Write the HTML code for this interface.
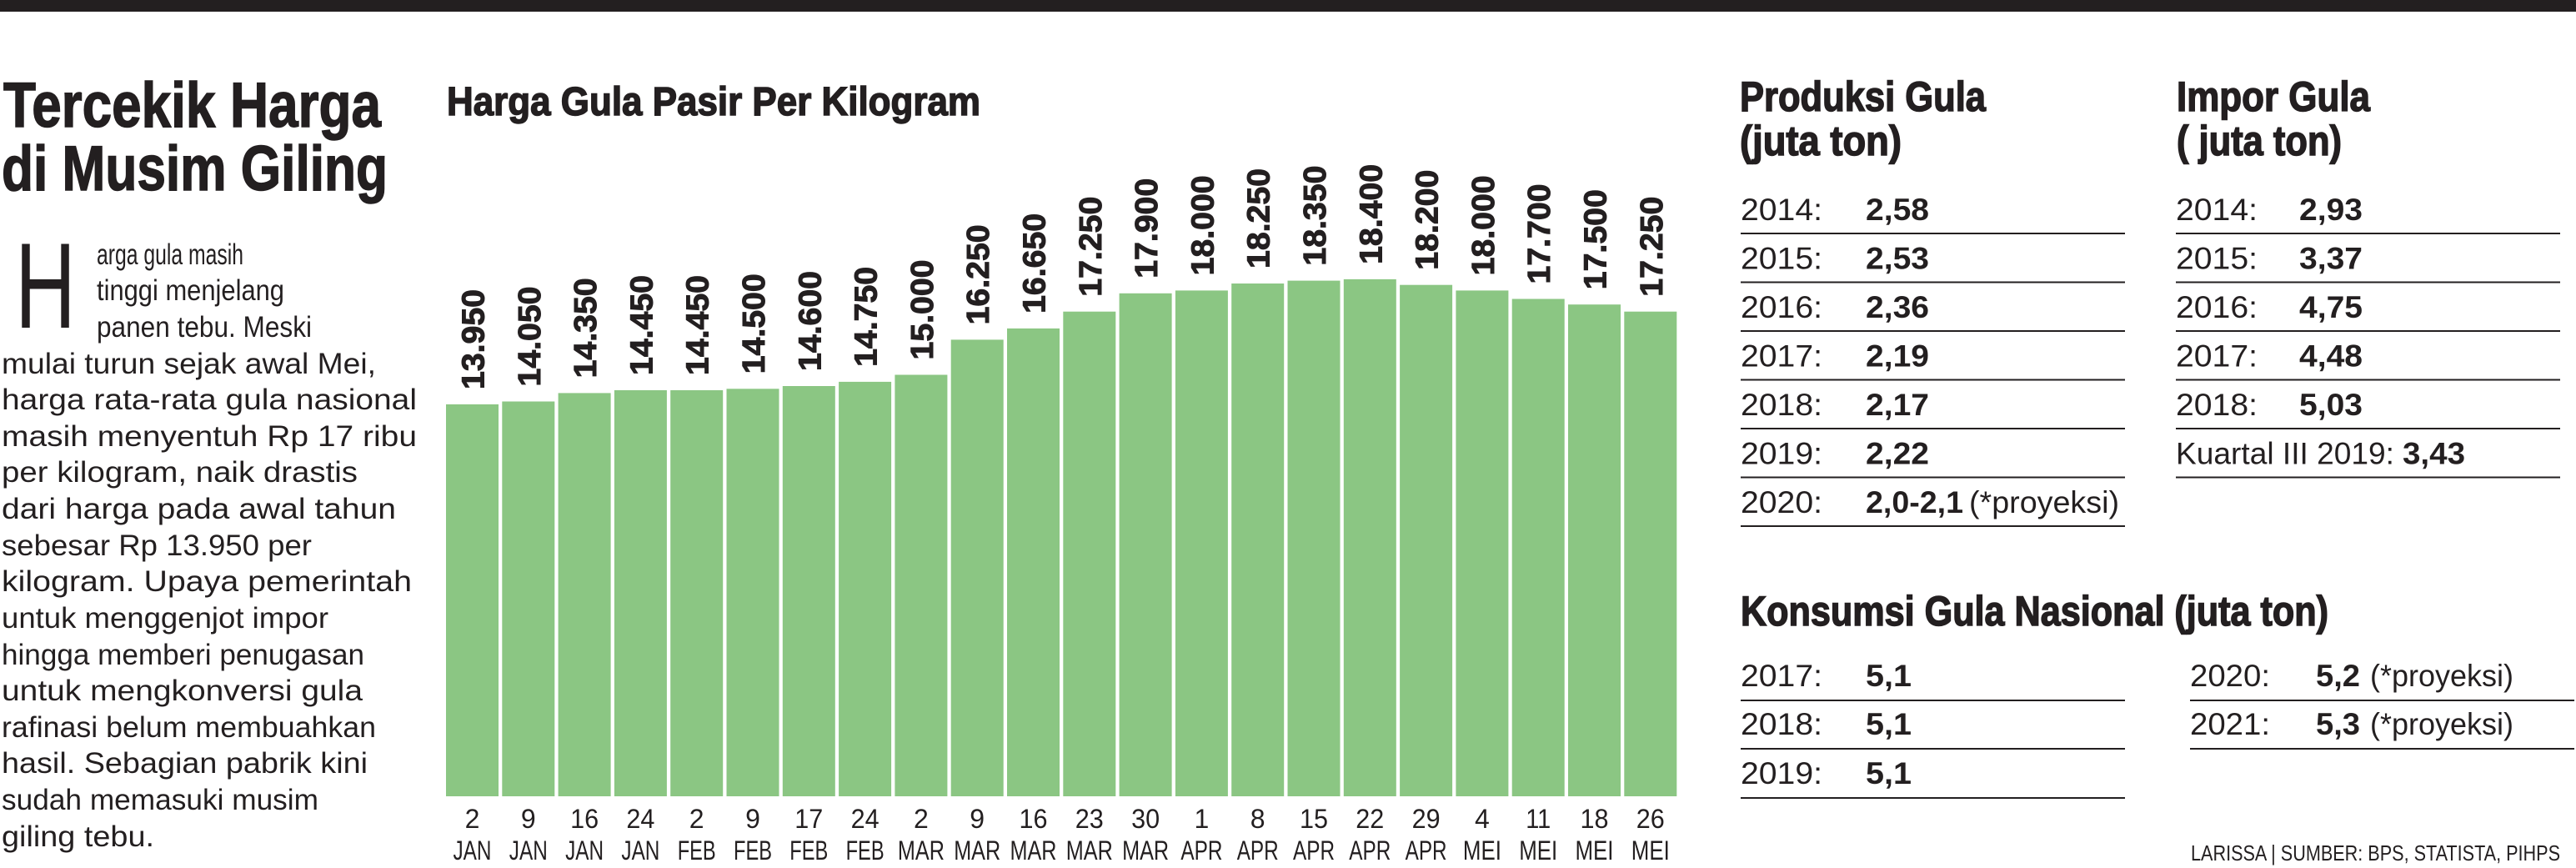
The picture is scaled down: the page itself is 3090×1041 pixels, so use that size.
<!DOCTYPE html>
<html><head><meta charset="utf-8"><style>
html,body{margin:0;padding:0;background:#fff;}
svg{display:block;}
text{font-family:"Liberation Sans",sans-serif;fill:#231f20;}
.h{font-weight:bold;stroke:#231f20;stroke-width:1.5px;}
.b{font-size:35px;}
.v{font-size:38px;font-weight:bold;stroke:#231f20;stroke-width:1px;}
.ax{font-size:32px;}
.t{font-size:37px;}
.tb{font-size:37px;font-weight:bold;}
</style></head><body>
<svg width="3090" height="1041" viewBox="0 0 3090 1041" xmlns="http://www.w3.org/2000/svg">
<rect x="0" y="0" width="3090" height="14" fill="#231f20"/>
<text class="h" x="4" y="152" font-size="76" textLength="453" lengthAdjust="spacingAndGlyphs">Tercekik Harga</text>
<text class="h" x="2" y="228" font-size="76" textLength="463" lengthAdjust="spacingAndGlyphs">di Musim Giling</text>
<text x="18" y="393" font-size="146" textLength="73" lengthAdjust="spacingAndGlyphs" style="font-weight:normal">H</text>
<g class="b">
<text x="116" y="317" textLength="176" lengthAdjust="spacingAndGlyphs">arga gula masih</text>
<text x="116" y="360" textLength="225" lengthAdjust="spacingAndGlyphs">tinggi menjelang</text>
<text x="116" y="404" textLength="258" lengthAdjust="spacingAndGlyphs">panen tebu. Meski</text>
<text x="2" y="448" textLength="449" lengthAdjust="spacingAndGlyphs">mulai turun sejak awal Mei,</text>
<text x="2" y="491" textLength="498" lengthAdjust="spacingAndGlyphs">harga rata-rata gula nasional</text>
<text x="2" y="535" textLength="498" lengthAdjust="spacingAndGlyphs">masih menyentuh Rp 17 ribu</text>
<text x="2" y="578" textLength="427" lengthAdjust="spacingAndGlyphs">per kilogram, naik drastis</text>
<text x="2" y="622" textLength="473" lengthAdjust="spacingAndGlyphs">dari harga pada awal tahun</text>
<text x="2" y="666" textLength="372" lengthAdjust="spacingAndGlyphs">sebesar Rp 13.950 per</text>
<text x="2" y="709" textLength="492" lengthAdjust="spacingAndGlyphs">kilogram. Upaya pemerintah</text>
<text x="2" y="753" textLength="392" lengthAdjust="spacingAndGlyphs">untuk menggenjot impor</text>
<text x="2" y="797" textLength="435" lengthAdjust="spacingAndGlyphs">hingga memberi penugasan</text>
<text x="2" y="840" textLength="433" lengthAdjust="spacingAndGlyphs">untuk mengkonversi gula</text>
<text x="2" y="884" textLength="449" lengthAdjust="spacingAndGlyphs">rafinasi belum membuahkan</text>
<text x="2" y="927" textLength="439" lengthAdjust="spacingAndGlyphs">hasil. Sebagian pabrik kini</text>
<text x="2" y="971" textLength="380" lengthAdjust="spacingAndGlyphs">sudah memasuki musim</text>
<text x="2" y="1015" textLength="183" lengthAdjust="spacingAndGlyphs">giling tebu.</text>
</g>
<text class="h" x="536" y="138" font-size="48" textLength="640" lengthAdjust="spacingAndGlyphs">Harga Gula Pasir Per Kilogram</text>
<g fill="#8bc683">
<rect x="535.0" y="484.9" width="63" height="470.1"/>
<rect x="602.3" y="481.5" width="63" height="473.5"/>
<rect x="669.6" y="471.4" width="63" height="483.6"/>
<rect x="736.9" y="468.0" width="63" height="487.0"/>
<rect x="804.2" y="468.0" width="63" height="487.0"/>
<rect x="871.5" y="466.3" width="63" height="488.7"/>
<rect x="938.8" y="463.0" width="63" height="492.0"/>
<rect x="1006.1" y="457.9" width="63" height="497.1"/>
<rect x="1073.4" y="449.5" width="63" height="505.5"/>
<rect x="1140.7" y="407.4" width="63" height="547.6"/>
<rect x="1208.0" y="393.9" width="63" height="561.1"/>
<rect x="1275.3" y="373.7" width="63" height="581.3"/>
<rect x="1342.6" y="351.8" width="63" height="603.2"/>
<rect x="1409.9" y="348.4" width="63" height="606.6"/>
<rect x="1477.2" y="340.0" width="63" height="615.0"/>
<rect x="1544.5" y="336.6" width="63" height="618.4"/>
<rect x="1611.8" y="334.9" width="63" height="620.1"/>
<rect x="1679.1" y="341.7" width="63" height="613.3"/>
<rect x="1746.4" y="348.4" width="63" height="606.6"/>
<rect x="1813.7" y="358.5" width="63" height="596.5"/>
<rect x="1881.0" y="365.2" width="63" height="589.8"/>
<rect x="1948.3" y="373.7" width="63" height="581.3"/>
</g>
<g class="v">
<text transform="translate(580.5,467) rotate(-90)" textLength="120" lengthAdjust="spacingAndGlyphs">13.950</text>
<text transform="translate(647.8,463.5) rotate(-90)" textLength="120" lengthAdjust="spacingAndGlyphs">14.050</text>
<text transform="translate(715.1,453.4) rotate(-90)" textLength="120" lengthAdjust="spacingAndGlyphs">14.350</text>
<text transform="translate(782.4,450) rotate(-90)" textLength="120" lengthAdjust="spacingAndGlyphs">14.450</text>
<text transform="translate(849.7,450) rotate(-90)" textLength="120" lengthAdjust="spacingAndGlyphs">14.450</text>
<text transform="translate(917,448.3) rotate(-90)" textLength="120" lengthAdjust="spacingAndGlyphs">14.500</text>
<text transform="translate(984.3,445) rotate(-90)" textLength="120" lengthAdjust="spacingAndGlyphs">14.600</text>
<text transform="translate(1051.6,439.9) rotate(-90)" textLength="120" lengthAdjust="spacingAndGlyphs">14.750</text>
<text transform="translate(1118.9,431.5) rotate(-90)" textLength="120" lengthAdjust="spacingAndGlyphs">15.000</text>
<text transform="translate(1186.2,389.4) rotate(-90)" textLength="120" lengthAdjust="spacingAndGlyphs">16.250</text>
<text transform="translate(1253.5,375.9) rotate(-90)" textLength="120" lengthAdjust="spacingAndGlyphs">16.650</text>
<text transform="translate(1320.8,355.7) rotate(-90)" textLength="120" lengthAdjust="spacingAndGlyphs">17.250</text>
<text transform="translate(1388.1,333.8) rotate(-90)" textLength="120" lengthAdjust="spacingAndGlyphs">17.900</text>
<text transform="translate(1455.4,330.4) rotate(-90)" textLength="120" lengthAdjust="spacingAndGlyphs">18.000</text>
<text transform="translate(1522.7,322) rotate(-90)" textLength="120" lengthAdjust="spacingAndGlyphs">18.250</text>
<text transform="translate(1590,318.6) rotate(-90)" textLength="120" lengthAdjust="spacingAndGlyphs">18.350</text>
<text transform="translate(1657.3,316.9) rotate(-90)" textLength="120" lengthAdjust="spacingAndGlyphs">18.400</text>
<text transform="translate(1724.6,323.7) rotate(-90)" textLength="120" lengthAdjust="spacingAndGlyphs">18.200</text>
<text transform="translate(1791.9,330.4) rotate(-90)" textLength="120" lengthAdjust="spacingAndGlyphs">18.000</text>
<text transform="translate(1859.2,340.5) rotate(-90)" textLength="120" lengthAdjust="spacingAndGlyphs">17.700</text>
<text transform="translate(1926.5,347.2) rotate(-90)" textLength="120" lengthAdjust="spacingAndGlyphs">17.500</text>
<text transform="translate(1993.8,355.7) rotate(-90)" textLength="120" lengthAdjust="spacingAndGlyphs">17.250</text>
</g>
<g class="ax" text-anchor="middle">
<text x="566.5" y="993">2</text><text x="566.5" y="1031" textLength="46" lengthAdjust="spacingAndGlyphs">JAN</text>
<text x="633.8" y="993">9</text><text x="633.8" y="1031" textLength="46" lengthAdjust="spacingAndGlyphs">JAN</text>
<text x="701.1" y="993" textLength="34" lengthAdjust="spacingAndGlyphs">16</text><text x="701.1" y="1031" textLength="46" lengthAdjust="spacingAndGlyphs">JAN</text>
<text x="768.4" y="993" textLength="34" lengthAdjust="spacingAndGlyphs">24</text><text x="768.4" y="1031" textLength="46" lengthAdjust="spacingAndGlyphs">JAN</text>
<text x="835.7" y="993">2</text><text x="835.7" y="1031" textLength="46" lengthAdjust="spacingAndGlyphs">FEB</text>
<text x="903" y="993">9</text><text x="903" y="1031" textLength="46" lengthAdjust="spacingAndGlyphs">FEB</text>
<text x="970.3" y="993" textLength="34" lengthAdjust="spacingAndGlyphs">17</text><text x="970.3" y="1031" textLength="46" lengthAdjust="spacingAndGlyphs">FEB</text>
<text x="1037.6" y="993" textLength="34" lengthAdjust="spacingAndGlyphs">24</text><text x="1037.6" y="1031" textLength="46" lengthAdjust="spacingAndGlyphs">FEB</text>
<text x="1104.9" y="993">2</text><text x="1104.9" y="1031" textLength="56" lengthAdjust="spacingAndGlyphs">MAR</text>
<text x="1172.2" y="993">9</text><text x="1172.2" y="1031" textLength="56" lengthAdjust="spacingAndGlyphs">MAR</text>
<text x="1239.5" y="993" textLength="34" lengthAdjust="spacingAndGlyphs">16</text><text x="1239.5" y="1031" textLength="56" lengthAdjust="spacingAndGlyphs">MAR</text>
<text x="1306.8" y="993" textLength="34" lengthAdjust="spacingAndGlyphs">23</text><text x="1306.8" y="1031" textLength="56" lengthAdjust="spacingAndGlyphs">MAR</text>
<text x="1374.1" y="993" textLength="34" lengthAdjust="spacingAndGlyphs">30</text><text x="1374.1" y="1031" textLength="56" lengthAdjust="spacingAndGlyphs">MAR</text>
<text x="1441.4" y="993">1</text><text x="1441.4" y="1031" textLength="50" lengthAdjust="spacingAndGlyphs">APR</text>
<text x="1508.7" y="993">8</text><text x="1508.7" y="1031" textLength="50" lengthAdjust="spacingAndGlyphs">APR</text>
<text x="1576" y="993" textLength="34" lengthAdjust="spacingAndGlyphs">15</text><text x="1576" y="1031" textLength="50" lengthAdjust="spacingAndGlyphs">APR</text>
<text x="1643.3" y="993" textLength="34" lengthAdjust="spacingAndGlyphs">22</text><text x="1643.3" y="1031" textLength="50" lengthAdjust="spacingAndGlyphs">APR</text>
<text x="1710.6" y="993" textLength="34" lengthAdjust="spacingAndGlyphs">29</text><text x="1710.6" y="1031" textLength="50" lengthAdjust="spacingAndGlyphs">APR</text>
<text x="1777.9" y="993">4</text><text x="1777.9" y="1031" textLength="46" lengthAdjust="spacingAndGlyphs">MEI</text>
<text x="1845.2" y="993" textLength="30" lengthAdjust="spacingAndGlyphs">11</text><text x="1845.2" y="1031" textLength="46" lengthAdjust="spacingAndGlyphs">MEI</text>
<text x="1912.5" y="993" textLength="34" lengthAdjust="spacingAndGlyphs">18</text><text x="1912.5" y="1031" textLength="46" lengthAdjust="spacingAndGlyphs">MEI</text>
<text x="1979.8" y="993" textLength="34" lengthAdjust="spacingAndGlyphs">26</text><text x="1979.8" y="1031" textLength="46" lengthAdjust="spacingAndGlyphs">MEI</text>
</g>
<text class="h" x="2087" y="133" font-size="50" textLength="295" lengthAdjust="spacingAndGlyphs">Produksi Gula</text>
<text class="h" x="2087" y="186" font-size="50" textLength="194" lengthAdjust="spacingAndGlyphs">(juta ton)</text>
<g stroke="#231f20" stroke-width="2">
<line x1="2088" y1="280" x2="2549" y2="280"/>
<line x1="2088" y1="338.5" x2="2549" y2="338.5"/>
<line x1="2088" y1="397" x2="2549" y2="397"/>
<line x1="2088" y1="455.5" x2="2549" y2="455.5"/>
<line x1="2088" y1="514" x2="2549" y2="514"/>
<line x1="2088" y1="572.5" x2="2549" y2="572.5"/>
<line x1="2088" y1="631" x2="2549" y2="631"/>
<line x1="2610" y1="280" x2="3071" y2="280"/>
<line x1="2610" y1="338.5" x2="3071" y2="338.5"/>
<line x1="2610" y1="397" x2="3071" y2="397"/>
<line x1="2610" y1="455.5" x2="3071" y2="455.5"/>
<line x1="2610" y1="514" x2="3071" y2="514"/>
<line x1="2610" y1="572.5" x2="3071" y2="572.5"/>
<line x1="2088" y1="840" x2="2549" y2="840"/>
<line x1="2088" y1="898" x2="2549" y2="898"/>
<line x1="2088" y1="957" x2="2549" y2="957"/>
<line x1="2627" y1="840" x2="3088" y2="840"/>
<line x1="2627" y1="898" x2="3088" y2="898"/>
</g>
<g>
<text class="t" x="2088" y="264" textLength="98" lengthAdjust="spacingAndGlyphs">2014:</text><text class="tb" x="2238" y="264" textLength="76" lengthAdjust="spacingAndGlyphs">2,58</text>
<text class="t" x="2088" y="322.5" textLength="98" lengthAdjust="spacingAndGlyphs">2015:</text><text class="tb" x="2238" y="322.5" textLength="76" lengthAdjust="spacingAndGlyphs">2,53</text>
<text class="t" x="2088" y="381" textLength="98" lengthAdjust="spacingAndGlyphs">2016:</text><text class="tb" x="2238" y="381" textLength="76" lengthAdjust="spacingAndGlyphs">2,36</text>
<text class="t" x="2088" y="439.5" textLength="98" lengthAdjust="spacingAndGlyphs">2017:</text><text class="tb" x="2238" y="439.5" textLength="76" lengthAdjust="spacingAndGlyphs">2,19</text>
<text class="t" x="2088" y="498" textLength="98" lengthAdjust="spacingAndGlyphs">2018:</text><text class="tb" x="2238" y="498" textLength="76" lengthAdjust="spacingAndGlyphs">2,17</text>
<text class="t" x="2088" y="556.5" textLength="98" lengthAdjust="spacingAndGlyphs">2019:</text><text class="tb" x="2238" y="556.5" textLength="76" lengthAdjust="spacingAndGlyphs">2,22</text>
<text class="t" x="2088" y="615" textLength="98" lengthAdjust="spacingAndGlyphs">2020:</text><text class="tb" x="2238" y="615" textLength="117" lengthAdjust="spacingAndGlyphs">2,0-2,1</text><text class="t" x="2362" y="615" textLength="180" lengthAdjust="spacingAndGlyphs">(*proyeksi)</text>
</g>
<text class="h" x="2611" y="133" font-size="50" textLength="232" lengthAdjust="spacingAndGlyphs">Impor Gula</text>
<text class="h" x="2611" y="186" font-size="50" textLength="198" lengthAdjust="spacingAndGlyphs">( juta ton)</text>
<g>
<text class="t" x="2610" y="264" textLength="98" lengthAdjust="spacingAndGlyphs">2014:</text><text class="tb" x="2758" y="264" textLength="76" lengthAdjust="spacingAndGlyphs">2,93</text>
<text class="t" x="2610" y="322.5" textLength="98" lengthAdjust="spacingAndGlyphs">2015:</text><text class="tb" x="2758" y="322.5" textLength="76" lengthAdjust="spacingAndGlyphs">3,37</text>
<text class="t" x="2610" y="381" textLength="98" lengthAdjust="spacingAndGlyphs">2016:</text><text class="tb" x="2758" y="381" textLength="76" lengthAdjust="spacingAndGlyphs">4,75</text>
<text class="t" x="2610" y="439.5" textLength="98" lengthAdjust="spacingAndGlyphs">2017:</text><text class="tb" x="2758" y="439.5" textLength="76" lengthAdjust="spacingAndGlyphs">4,48</text>
<text class="t" x="2610" y="498" textLength="98" lengthAdjust="spacingAndGlyphs">2018:</text><text class="tb" x="2758" y="498" textLength="76" lengthAdjust="spacingAndGlyphs">5,03</text>
<text class="t" x="2610" y="556.5" textLength="262" lengthAdjust="spacingAndGlyphs">Kuartal III 2019:</text><text class="tb" x="2882" y="556.5" textLength="75" lengthAdjust="spacingAndGlyphs">3,43</text>
</g>
<text class="h" x="2088" y="750" font-size="50" textLength="705" lengthAdjust="spacingAndGlyphs">Konsumsi Gula Nasional (juta ton)</text>
<g>
<text class="t" x="2088" y="823" textLength="98" lengthAdjust="spacingAndGlyphs">2017:</text><text class="tb" x="2238" y="823" textLength="55" lengthAdjust="spacingAndGlyphs">5,1</text>
<text class="t" x="2088" y="881" textLength="98" lengthAdjust="spacingAndGlyphs">2018:</text><text class="tb" x="2238" y="881" textLength="55" lengthAdjust="spacingAndGlyphs">5,1</text>
<text class="t" x="2088" y="940" textLength="98" lengthAdjust="spacingAndGlyphs">2019:</text><text class="tb" x="2238" y="940" textLength="55" lengthAdjust="spacingAndGlyphs">5,1</text>
<text class="t" x="2627" y="823" textLength="96" lengthAdjust="spacingAndGlyphs">2020:</text><text class="tb" x="2778" y="823" textLength="53" lengthAdjust="spacingAndGlyphs">5,2</text><text class="t" x="2843" y="823" textLength="172" lengthAdjust="spacingAndGlyphs">(*proyeksi)</text>
<text class="t" x="2627" y="881" textLength="96" lengthAdjust="spacingAndGlyphs">2021:</text><text class="tb" x="2778" y="881" textLength="53" lengthAdjust="spacingAndGlyphs">5,3</text><text class="t" x="2843" y="881" textLength="172" lengthAdjust="spacingAndGlyphs">(*proyeksi)</text>
</g>
<text x="2628" y="1032" font-size="26" textLength="443" lengthAdjust="spacingAndGlyphs">LARISSA | SUMBER: BPS, STATISTA, PIHPS</text>
</svg>
</body></html>
